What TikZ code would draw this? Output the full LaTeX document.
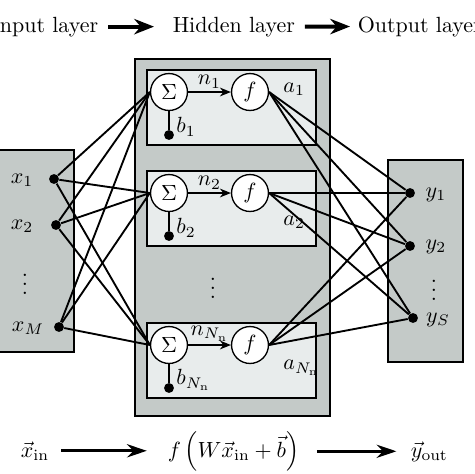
\documentclass[tikz,border=0pt]{standalone}
\usepackage{amsmath}
\usetikzlibrary{arrows.meta}

\definecolor{layergray}{RGB}{196,202,200}
\definecolor{cellgray}{RGB}{232,236,236}

\begin{document}
\begin{tikzpicture}[x=0.455pt, y=-0.455pt,
    layerbox/.style={draw, fill=layergray, line width=0.9pt},
    cellbox/.style={draw, fill=cellgray, line width=0.9pt},
    neuron/.style={circle, draw, fill=white, line width=0.6pt, minimum size=16.8pt, inner sep=0pt},
    blob/.style={circle, fill, inner sep=0pt, minimum size=4.5pt},
    wire/.style={line width=0.85pt},
    toparrow/.style={-{Stealth[length=9pt, width=7pt]}, line width=1.8pt},
    botarrow/.style={-{Stealth[length=9pt, width=6pt]}, line width=1.4pt}]
    \useasboundingbox (0,0) rectangle (474,474);

    % Layer boxes:
    \draw[layerbox] (-10,150) rectangle (74,352);
    \draw[layerbox] (135,59) rectangle (330,416);
    \draw[layerbox] (388,160) rectangle (463,362);

    % Titles:
    \node[anchor=base east] (inlab) at (106,32) {Input layer};
    \node[anchor=base west] (hidlab) at (165,32) {Hidden layer};
    \node[anchor=base west] (outlab) at (350,32) {Output layer};
    \draw[toparrow, shorten <=1pt, shorten >=5pt] (inlab.east) -- (hidlab.west);
    \draw[toparrow, shorten <=1pt] (hidlab.east) -- (outlab.west);

    % Neurons of the hidden layer:
    \foreach \i/\y/\sub/\ay in {1/92/1/-3, 2/193/2/29, 3/345/{N_{\mathrm{n}}}/23} {
        \draw[cellbox] (147,\y-22) rectangle (316,\y+53);
        \node[neuron] (s\i) at (169,\y) {$\Sigma$};
        \node[neuron] (f\i) at (250,\y) {$f$};
        \draw[-{Stealth[length=5pt, width=4pt]}, line width=0.6pt] (s\i) -- (f\i)
            node[midway, above, inner sep=1.5pt] {$n_{\sub}$};
        \node[blob] (b\i) at (169,\y+43) {};
        \draw[line width=0.85pt] (s\i) -- (b\i);
        \node[anchor=west, inner sep=0pt] at (176,\y+35) {$b_{\sub}$};
        \node[anchor=west, inner sep=0pt] at (283,\y+\ay) {$a_{\sub}$};
    }
    \node at (213,282) {$\vdots$};

    % Inputs:
    \node[blob] (x1) at (54,179) {};
    \node[blob] (x2) at (56,225) {};
    \node[blob] (xM) at (59,327) {};
    \node at (22,180) {$x_1$};
    \node at (22,226) {$x_2$};
    \node at (25,278) {$\vdots$};
    \node at (28,328) {$x_M$};

    % Outputs:
    \node[blob] (y1) at (410,193) {};
    \node[blob] (y2) at (410,246) {};
    \node[blob] (yS) at (413,318) {};
    \node at (436,195) {$y_1$};
    \node at (436,247) {$y_2$};
    \node at (434,284) {$\vdots$};
    \node at (438,320) {$y_S$};

    % Weights:
    \foreach \j in {1,2,3} {
        \foreach \k in {x1,x2,xM}
            \draw[wire] (\k) -- (s\j.west);
        \foreach \k in {y1,y2,yS}
            \draw[wire] (f\j.east) -- (\k);
    }

    % Formula:
    \node[anchor=base west] (xin) at (13,457) {$\vec{x}_{\mathrm{in}}$};
    \node[anchor=base west] (fx) at (160,457) {$f\left(W\vec{x}_{\mathrm{in}}+\vec{b}\right)$};
    \node[anchor=base west] (yout) at (403,457) {$\vec{y}_{\mathrm{out}}$};
    \draw[botarrow, shorten <=2pt, shorten >=6pt] (xin.east) -- (xin.east -| fx.west);
    \draw[botarrow, shorten <=4.5pt, shorten >=3pt] (fx.east |- yout.west) -- (yout.west);
\end{tikzpicture}
\end{document}
